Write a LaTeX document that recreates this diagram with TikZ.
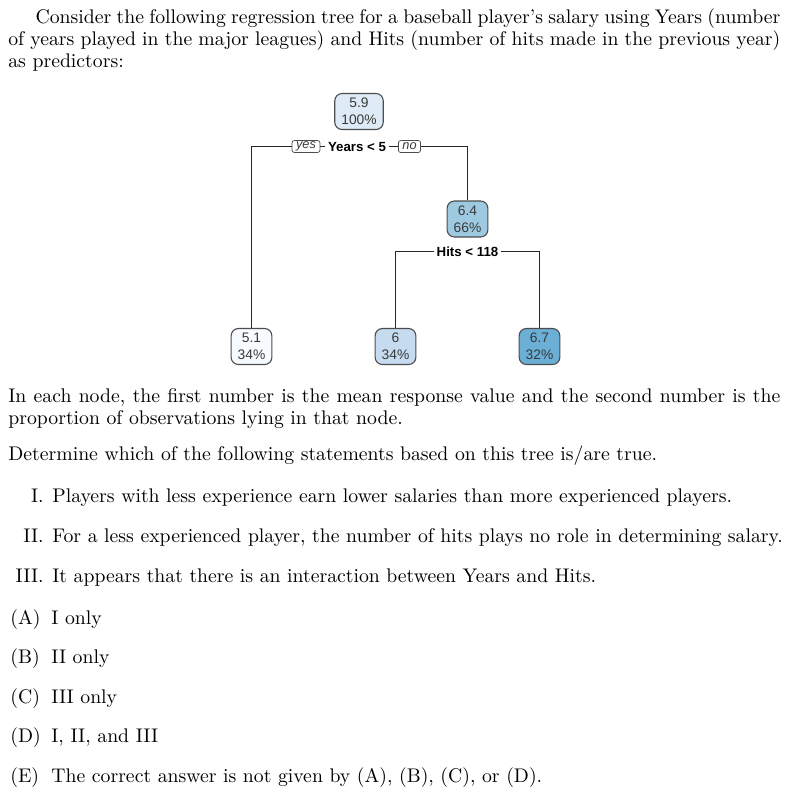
\documentclass[tikz,border=0pt]{standalone}
\usepackage{fontspec}
\newfontfamily\treefont{Liberation Sans}
\usetikzlibrary{positioning}

\definecolor{boxline}{HTML}{4D4D4D}
\definecolor{edgecol}{HTML}{262626}
\definecolor{tnum}{HTML}{3A3A3A}
\definecolor{c59}{HTML}{DEEBF7}
\definecolor{c51}{HTML}{F7FBFF}
\definecolor{c6}{HTML}{C6DBEF}
\definecolor{c64}{HTML}{9ECAE1}
\definecolor{c67}{HTML}{6BAED6}

\begin{document}
\begin{tikzpicture}[x=0.55pt,y=-0.55pt,
    font=\fontsize{10.85}{12.1}\selectfont,
    tnode/.style={draw=boxline, line width=0.6pt, rounded corners=4pt, align=center,
      font=\treefont\fontsize{7.6}{9.4}\selectfont, text=tnum,
      inner xsep=3.6pt, inner ysep=2pt, minimum height=19.8pt},
    split/.style={font=\treefont\bfseries\fontsize{7.3}{8}\selectfont, inner xsep=1.5pt, inner ysep=0pt},
    tag/.style={draw=boxline, line width=0.4pt, rounded corners=1.2pt, fill=white,
      font=\treefont\itshape\fontsize{7}{8}\selectfont, text=tnum,
      inner xsep=2.2pt, inner ysep=0.6pt, minimum height=6.5pt},
    edge/.style={line width=0.6pt, draw=edgecol},
    txt/.style={inner sep=0pt, anchor=base west},
    para/.style={inner sep=0pt, anchor=north west, text width=424.6pt, align=justify},
  ]
    \useasboundingbox (0,0) rectangle (797,792);

    % Question text
    \node[para] (intro) at (8,7.7) {\strut\hspace*{15pt}Consider the following regression tree for a baseball player’s salary using Years (number\linebreak of years played in the major leagues) and Hits (number of hits made in the previous year)\linebreak as predictors:};

    % Tree nodes
    \node[tnode, fill=c59] (root) at (359,111.5) {5.9\\100\%};
    \node[split] (ysplit) at (357,146.5) {Years < 5};
    \node[tag] (yes) at (306,146.5) {yes};
    \node[tag] (no) at (409.5,146.5) {no};
    \node[tnode, fill=c64] (n64) at (467.5,219) {6.4\\66\%};
    \node[split] (hsplit) at (467.5,251.5) {Hits < 118};
    \node[tnode, fill=c51] (l51) at (251.5,346.5) {5.1\\34\%};
    \node[tnode, fill=c6] (l6) at (395.5,346.5) {6\\34\%};
    \node[tnode, fill=c67] (l67) at (539.5,346.5) {6.7\\32\%};

    % Branches
    \draw[edge] (yes.west) -| (l51.north);
    \draw[edge] (yes.east) -- (ysplit.west);
    \draw[edge] (ysplit.east) -- (no.west);
    \draw[edge] (no.east) -| (n64.north);
    \draw[edge] (hsplit.west) -| (l6.north);
    \draw[edge] (hsplit.east) -| (l67.north);

    % Explanation
    \node[para] (expl) at (8,386.7) {\strut In each node, the first number is the mean response value and the second number is the\linebreak proportion of observations lying in that node.};
    \node[txt] (ask) at (8,460) {Determine which of the following statements based on this tree is/are true.};

    % Statements
    \node[txt, anchor=base east] (s1lab) at (44,502) {I.};
    \node[txt] (s1) at (52,502) {Players with less experience earn lower salaries than more experienced players.};
    \node[txt, anchor=base east] (s2lab) at (44,542) {II.};
    \node[txt] (s2) at (52,542) {For a less experienced player, the number of hits plays no role in determining salary.};
    \node[txt, anchor=base east] (s3lab) at (44,582) {III.};
    \node[txt] (s3) at (52,582) {It appears that there is an interaction between Years and Hits.};

    % Choices
    \foreach \lab/\y/\ans in {A/624/{I only}, B/663/{II only}, C/703/{III only},
        D/742/{I, II, and III}, E/782/{The correct answer is not given by (A), (B), (C), or (D).}} {
        \node[txt] (lab\lab) at (10,\y) {(\lab)};
        \node[txt] (opt\lab) at (51,\y) {\ans};
    }
\end{tikzpicture}
\end{document}
